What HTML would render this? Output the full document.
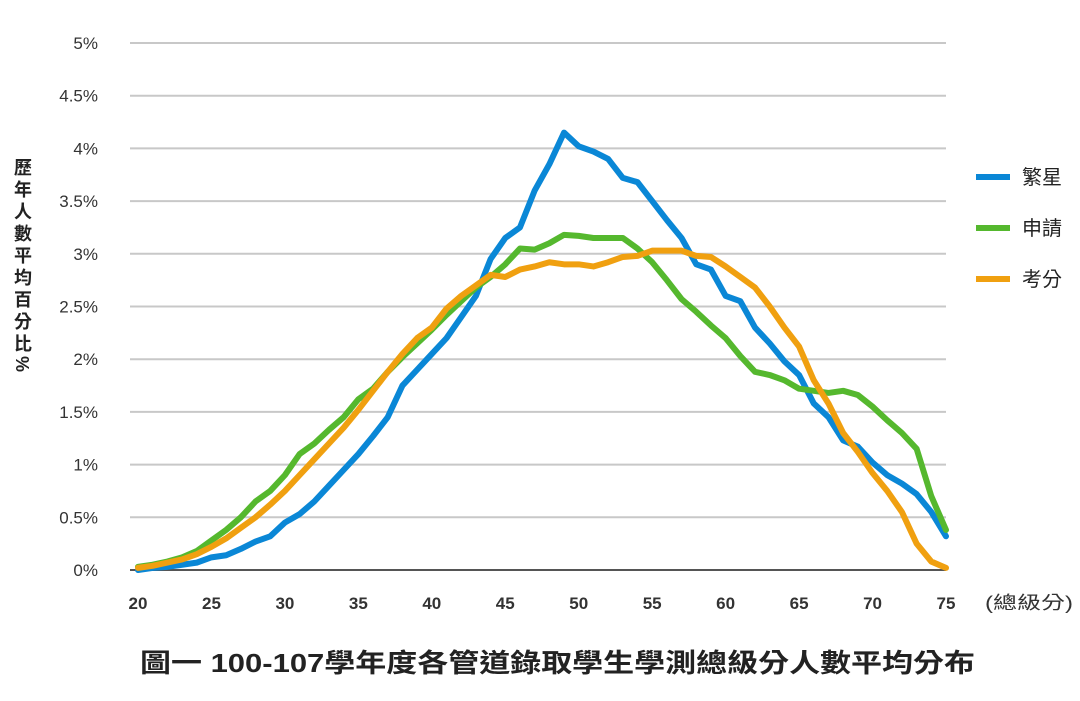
<!DOCTYPE html>
<html><head><meta charset="utf-8">
<style>
body{margin:0;background:#fff;width:1080px;height:696px;overflow:hidden;font-family:"Liberation Sans","Noto Sans CJK TC",sans-serif;}
svg text{font-family:"Liberation Sans","Noto Sans CJK TC",sans-serif;}
</style></head>
<body>
<svg id="chart" width="1080" height="696" xmlns="http://www.w3.org/2000/svg">
<g id="grid"></g>
<g id="yticks"></g>
<g id="xticks"></g>
<g id="series"></g>
<g id="legend"></g>
<text x="985" y="609" font-size="18" fill="#333" textLength="88" lengthAdjust="spacingAndGlyphs">(總級分)</text>
<text x="22" y="158" font-size="18" font-weight="bold" fill="#222" style="writing-mode:vertical-rl;letter-spacing:4px">歷年人數平均百分比%</text>
<text x="140" y="672" font-size="26" font-weight="bold" fill="#222" textLength="835" lengthAdjust="spacingAndGlyphs">圖一 100-107學年度各管道錄取學生學測總級分人數平均分布</text>
</svg>
<script>
const scores=[];for(let s=20;s<=75;s++)scores.push(s);
const xTicks=[20,25,30,35,40,45,50,55,60,65,70,75];
const yTicks=[0,0.5,1,1.5,2,2.5,3,3.5,4,4.5,5];
const yTickLabels=["0%","0.5%","1%","1.5%","2%","2.5%","3%","3.5%","4%","4.5%","5%"];
const seriesNames=["繁星","申請","考分"];
const seriesColors=["#0a87d6","#55b82e","#f0a010"];
const fanxing=[0.0,0.02,0.03,0.05,0.07,0.12,0.14,0.2,0.27,0.32,0.45,0.53,0.65,0.8,0.95,1.1,1.27,1.45,1.75,1.9,2.05,2.2,2.4,2.6,2.95,3.15,3.25,3.6,3.85,4.15,4.02,3.97,3.9,3.72,3.68,3.5,3.32,3.15,2.9,2.85,2.6,2.55,2.3,2.15,1.98,1.85,1.58,1.45,1.23,1.17,1.02,0.9,0.82,0.72,0.55,0.32];
const shenqing=[0.03,0.05,0.08,0.12,0.18,0.28,0.38,0.5,0.65,0.75,0.9,1.1,1.2,1.33,1.45,1.62,1.72,1.88,2.02,2.15,2.28,2.42,2.55,2.68,2.78,2.9,3.05,3.04,3.1,3.18,3.17,3.15,3.15,3.15,3.05,2.92,2.75,2.57,2.45,2.32,2.2,2.03,1.88,1.85,1.8,1.72,1.7,1.68,1.7,1.66,1.55,1.42,1.3,1.15,0.7,0.38];
const kaofen=[0.02,0.04,0.07,0.1,0.15,0.22,0.3,0.4,0.5,0.62,0.75,0.9,1.05,1.2,1.35,1.52,1.7,1.88,2.05,2.2,2.3,2.48,2.6,2.7,2.8,2.78,2.85,2.88,2.92,2.9,2.9,2.88,2.92,2.97,2.98,3.03,3.03,3.03,2.98,2.97,2.88,2.78,2.68,2.5,2.3,2.12,1.8,1.58,1.3,1.12,0.92,0.75,0.55,0.25,0.08,0.02];
const allSeries=[fanxing,shenqing,kaofen];
const NS="http://www.w3.org/2000/svg";
const X=s=>138+(s-20)*(946-138)/55;
const Y=v=>570-v*(570-43)/5;
function mk(tag,attrs,parent){const e=document.createElementNS(NS,tag);for(const k in attrs)e.setAttribute(k,attrs[k]);parent.appendChild(e);return e;}
const grid=document.getElementById('grid'),yt=document.getElementById('yticks'),xt=document.getElementById('xticks'),sg=document.getElementById('series'),lg=document.getElementById('legend');
yTicks.forEach((v,i)=>{
  const l=mk('line',{x1:130,x2:946,y1:Y(v),y2:Y(v),stroke:v===0?'#555':'#c8c8c8','stroke-width':2},grid);
  
  
  const t=mk('text',{x:98,y:Y(v)+6,'text-anchor':'end','font-size':17,fill:'#333'},yt);
  
  
  t.textContent=yTickLabels[i];
});
xTicks.forEach(s=>{
  const t=mk('text',{x:X(s),y:609,'text-anchor':'middle','font-size':17,'font-weight':'bold',fill:'#333'},xt);
  
  
  t.textContent=s;
});
allSeries.forEach((d,i)=>{
  const p=mk('polyline',{points:d.map((v,j)=>X(scores[j])+','+Y(v)).join(' '),fill:'none',stroke:seriesColors[i],'stroke-width':6,'stroke-linejoin':'round','stroke-linecap':'round'},sg);
  
  
  const ly=177+i*51;
  const ll=mk('line',{x1:976,x2:1010,y1:ly,y2:ly,stroke:seriesColors[i],'stroke-width':6},lg);
  
  
  const lt=mk('text',{x:1022,y:ly+7,'font-size':20,fill:'#222'},lg);
  
  
  lt.textContent=seriesNames[i];
});
</script>
</body></html>
